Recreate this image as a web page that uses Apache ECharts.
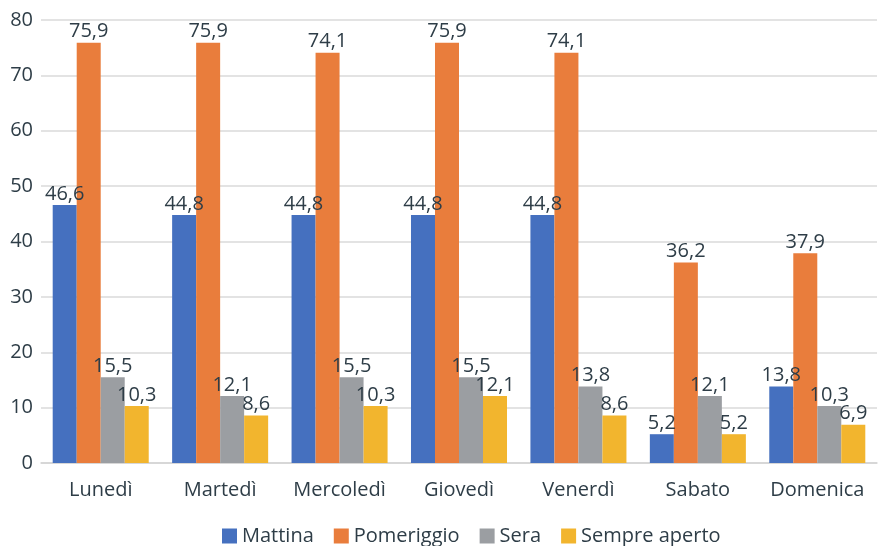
<!DOCTYPE html>
<html>
<head>
<meta charset="utf-8">
<script src="https://cdn.jsdelivr.net/npm/echarts@6/dist/echarts.min.js"></script>
<style>
  html, body { margin: 0; padding: 0; background: #ffffff; }
  #chart { width: 881px; height: 546px; }
</style>
</head>
<body>
<div id="chart"></div>
<script>
// Fasce orarie di apertura per giorno della settimana (%)
const giorni = ['Lunedì', 'Martedì', 'Mercoledì', 'Giovedì', 'Venerdì', 'Sabato', 'Domenica'];
const mattina = [46.6, 44.8, 44.8, 44.8, 44.8, 5.2, 13.8];
const pomeriggio = [75.9, 75.9, 74.1, 75.9, 74.1, 36.2, 37.9];
const sera = [15.5, 12.1, 15.5, 15.5, 13.8, 12.1, 10.3];
const sempreAperto = [10.3, 8.6, 10.3, 12.1, 8.6, 5.2, 6.9];
const yTicks = [0, 10, 20, 30, 40, 50, 60, 70, 80];

const textColor = '#2e3d47';
const font = '"Open Sans", sans-serif';

function serie(name, data, color) {
  return {
    name: name,
    type: 'bar',
    data: data,
    barGap: '0%',
    barCategoryGap: '19.6%',
    itemStyle: { color: color },
    label: {
      show: true,
      position: 'top',
      distance: 1,
      color: textColor,
      fontFamily: font,
      fontSize: 20,
      formatter: p => String(p.value).replace('.', ',')
    }
  };
}

const chart = echarts.init(document.getElementById('chart'), null, { renderer: 'canvas' });
chart.setOption({
  animation: false,
  backgroundColor: '#ffffff',
  grid: { left: 41, right: 4, top: 20, bottom: 83, containLabel: false },
  legend: {
    top: 521,
    left: 217,
    itemWidth: 15,
    itemHeight: 15,
    itemGap: 20,
    icon: 'rect',
    textStyle: { color: textColor, fontFamily: font, fontSize: 20, padding: [0, 0, 0, 0] },
    data: ['Mattina', 'Pomeriggio', 'Sera', 'Sempre aperto']
  },
  xAxis: {
    type: 'category',
    data: giorni,
    axisLine: { show: true, lineStyle: { color: '#d4d4d4', width: 1.5 } },
    axisTick: { show: false },
    axisLabel: { color: textColor, fontFamily: font, fontSize: 20, margin: 17, interval: 0 }
  },
  yAxis: {
    type: 'value',
    min: yTicks[0],
    max: yTicks[yTicks.length - 1],
    interval: 10,
    axisLine: { show: false },
    axisTick: { show: false },
    splitLine: { lineStyle: { color: '#dadada', width: 1.5 } },
    axisLabel: { color: textColor, fontFamily: font, fontSize: 20, margin: 8 }
  },
  series: [
    serie('Mattina', mattina, '#4570bf'),
    serie('Pomeriggio', pomeriggio, '#e97d3c'),
    serie('Sera', sera, '#9b9ea2'),
    serie('Sempre aperto', sempreAperto, '#f2b52e')
  ]
});
</script>
</body>
</html>
